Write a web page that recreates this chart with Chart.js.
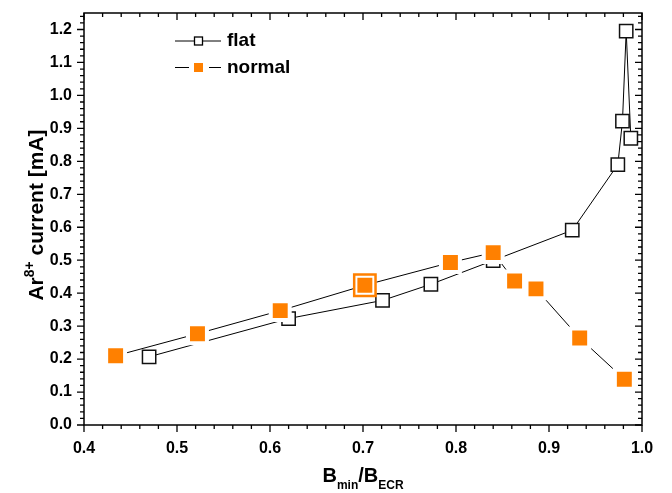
<!DOCTYPE html>
<html>
<head>
<meta charset="utf-8">
<script src="https://cdn.jsdelivr.net/npm/chart.js@4.4.1/dist/chart.umd.min.js"></script>
<style>
  html, body { margin: 0; padding: 0; background: #fff; }
  canvas { display: block; }
</style>
</head>
<body>
<canvas id="arChart" width="672" height="493"></canvas>
<script>
// Ar8+ current vs field ratio, flat and normal minimum-B configurations
const flatX   = [0.470, 0.620, 0.721, 0.773, 0.840, 0.925, 0.974, 0.979, 0.983, 0.988];
const flatY   = [0.207, 0.323, 0.378, 0.427, 0.499, 0.591, 0.790, 0.922, 1.195, 0.870];
const normalX = [0.434, 0.522, 0.611, 0.702, 0.794, 0.840, 0.863, 0.886, 0.933, 0.981];
const normalY = [0.210, 0.277, 0.347, 0.424, 0.493, 0.523, 0.437, 0.413, 0.264, 0.139];
const markedIndex = 3; // the ringed "normal" point

const xTicks = [0.4, 0.5, 0.6, 0.7, 0.8, 0.9, 1.0];
const yTicks = [0.0, 0.1, 0.2, 0.3, 0.4, 0.5, 0.6, 0.7, 0.8, 0.9, 1.0, 1.1, 1.2];

const ORANGE = '#ff8000';
const FONT = '"Liberation Sans", Arial, sans-serif';

const toPoints = (xs, ys) => xs.map((x, i) => ({ x: x, y: ys[i] }));

// frame, tick marks on all four sides, axis titles and the in-plot legend
const decorations = {
  id: 'decorations',
  afterDraw(chart) {
    const ctx = chart.ctx;
    const a = chart.chartArea;
    const xs = chart.scales.x, ys = chart.scales.y;
    ctx.save();
    ctx.strokeStyle = '#000';
    ctx.lineWidth = 1.5;
    ctx.strokeRect(a.left, a.top, a.right - a.left, a.bottom - a.top);

    ctx.lineWidth = 1.3;
    ctx.beginPath();
    for (let i = 0; i <= 30; i++) {
      const px = xs.getPixelForValue(0.4 + i * 0.02);
      const len = i % 5 === 0 ? 7 : 4;
      ctx.moveTo(px, a.bottom); ctx.lineTo(px, a.bottom + len);
      ctx.moveTo(px, a.top); ctx.lineTo(px, a.top + len);
    }
    for (let i = 0; i <= 62; i++) {
      const py = ys.getPixelForValue(i * 0.02);
      const len = i % 5 === 0 ? 7 : 4;
      ctx.moveTo(a.left, py); ctx.lineTo(a.left - len, py);
      ctx.moveTo(a.right, py); ctx.lineTo(a.right - len, py);
    }
    ctx.stroke();

    // y title: Ar^8+ current [mA]
    ctx.fillStyle = '#000';
    ctx.textBaseline = 'alphabetic';
    ctx.textAlign = 'left';
    const big = 'bold 21px ' + FONT, sup = 'bold 14px ' + FONT;
    ctx.font = big; const w1 = ctx.measureText('Ar').width;
    const w3 = ctx.measureText(' current [mA]').width;
    ctx.font = sup; const w2 = ctx.measureText('8+').width;
    ctx.translate(43, 215);
    ctx.rotate(-Math.PI / 2);
    let sx = -(w1 + w2 + w3) / 2;
    ctx.font = big; ctx.fillText('Ar', sx, 0); sx += w1;
    ctx.font = sup; ctx.fillText('8+', sx, -9); sx += w2;
    ctx.font = big; ctx.fillText(' current [mA]', sx, 0);
    ctx.setTransform(1, 0, 0, 1, 0, 0);

    // x title: B_min / B_ECR
    const main = 'bold 20px ' + FONT, sub = 'bold 12px ' + FONT;
    const parts = [['B', main, 0], ['min', sub, 7], ['/B', main, 0], ['ECR', sub, 7]];
    let total = 0;
    parts.forEach(p => { ctx.font = p[1]; total += ctx.measureText(p[0]).width; });
    let tx = (a.left + a.right) / 2 - total / 2;
    parts.forEach(p => {
      ctx.font = p[1];
      ctx.fillText(p[0], tx, 482 + p[2]);
      tx += ctx.measureText(p[0]).width;
    });

    // legend
    ctx.lineWidth = 1;
    ctx.strokeStyle = '#000';
    ctx.beginPath();
    ctx.moveTo(175, 41); ctx.lineTo(221, 41);
    ctx.moveTo(175, 67.5); ctx.lineTo(189, 67.5);
    ctx.moveTo(209, 67.5); ctx.lineTo(221, 67.5);
    ctx.stroke();
    ctx.fillStyle = '#fff';
    ctx.fillRect(194.5, 37, 8, 8);
    ctx.lineWidth = 1.3;
    ctx.strokeRect(194.5, 37, 8, 8);
    ctx.fillStyle = ORANGE;
    ctx.fillRect(194, 63, 9, 9);
    ctx.fillStyle = '#000';
    ctx.font = 'bold 19px ' + FONT;
    ctx.textBaseline = 'middle';
    ctx.fillText(chart.data.datasets[0].label, 227, 41);
    ctx.fillText(chart.data.datasets[1].label, 227, 67.5);
    ctx.restore();
  }
};

new Chart(document.getElementById('arChart'), {
  type: 'scatter',
  data: {
    datasets: [{
      label: 'flat',
      data: toPoints(flatX, flatY),
      showLine: true,
      borderColor: '#000',
      borderWidth: 1,
      pointStyle: 'rect',
      pointRadius: 9.4,
      pointBackgroundColor: '#fff',
      pointBorderColor: '#111',
      pointBorderWidth: 1.5,
      clip: false,
      order: 2
    }, {
      label: 'normal',
      data: toPoints(normalX, normalY),
      showLine: true,
      borderColor: '#000',
      borderWidth: 1,
      pointStyle: 'rect',
      pointRadius: 13.4,
      pointBackgroundColor: ORANGE,
      pointBorderColor: '#fff',
      pointBorderWidth: 4,
      clip: false,
      order: 1
    }, {
      label: 'marked',
      data: [{ x: normalX[markedIndex], y: normalY[markedIndex] }],
      showLine: false,
      pointStyle: 'rect',
      pointRadius: 15.1,
      pointBackgroundColor: 'rgba(0,0,0,0)',
      pointBorderColor: ORANGE,
      pointBorderWidth: 2.5,
      clip: false,
      order: 0
    }]
  },
  options: {
    responsive: false,
    animation: false,
    layout: { autoPadding: false, padding: { top: 13, right: 30, left: 0, bottom: 0 } },
    plugins: { legend: { display: false }, tooltip: { enabled: false } },
    elements: { line: { tension: 0 } },
    scales: {
      x: {
        type: 'linear',
        min: 0.4, max: 1.0,
        grid: { display: false, drawTicks: false },
        border: { display: false },
        afterBuildTicks: s => { s.ticks = xTicks.map(v => ({ value: v })); },
        afterFit: s => { s.height = 68; s.paddingLeft = 0; s.paddingRight = 0; },
        ticks: {
          padding: 14,
          color: '#000',
          font: { family: FONT, size: 16, weight: 'bold' },
          callback: v => v.toFixed(1),
          maxRotation: 0
        }
      },
      y: {
        type: 'linear',
        min: 0, max: 1.25,
        grid: { display: false, drawTicks: false },
        border: { display: false },
        afterBuildTicks: s => { s.ticks = yTicks.map(v => ({ value: v })); },
        afterFit: s => { s.width = 84; s.paddingTop = 0; s.paddingBottom = 0; },
        ticks: {
          padding: 12,
          color: '#000',
          font: { family: FONT, size: 16, weight: 'bold', lineHeight: 0.4 },
          callback: v => v.toFixed(1)
        }
      }
    }
  },
  plugins: [decorations]
});
</script>
</body>
</html>
